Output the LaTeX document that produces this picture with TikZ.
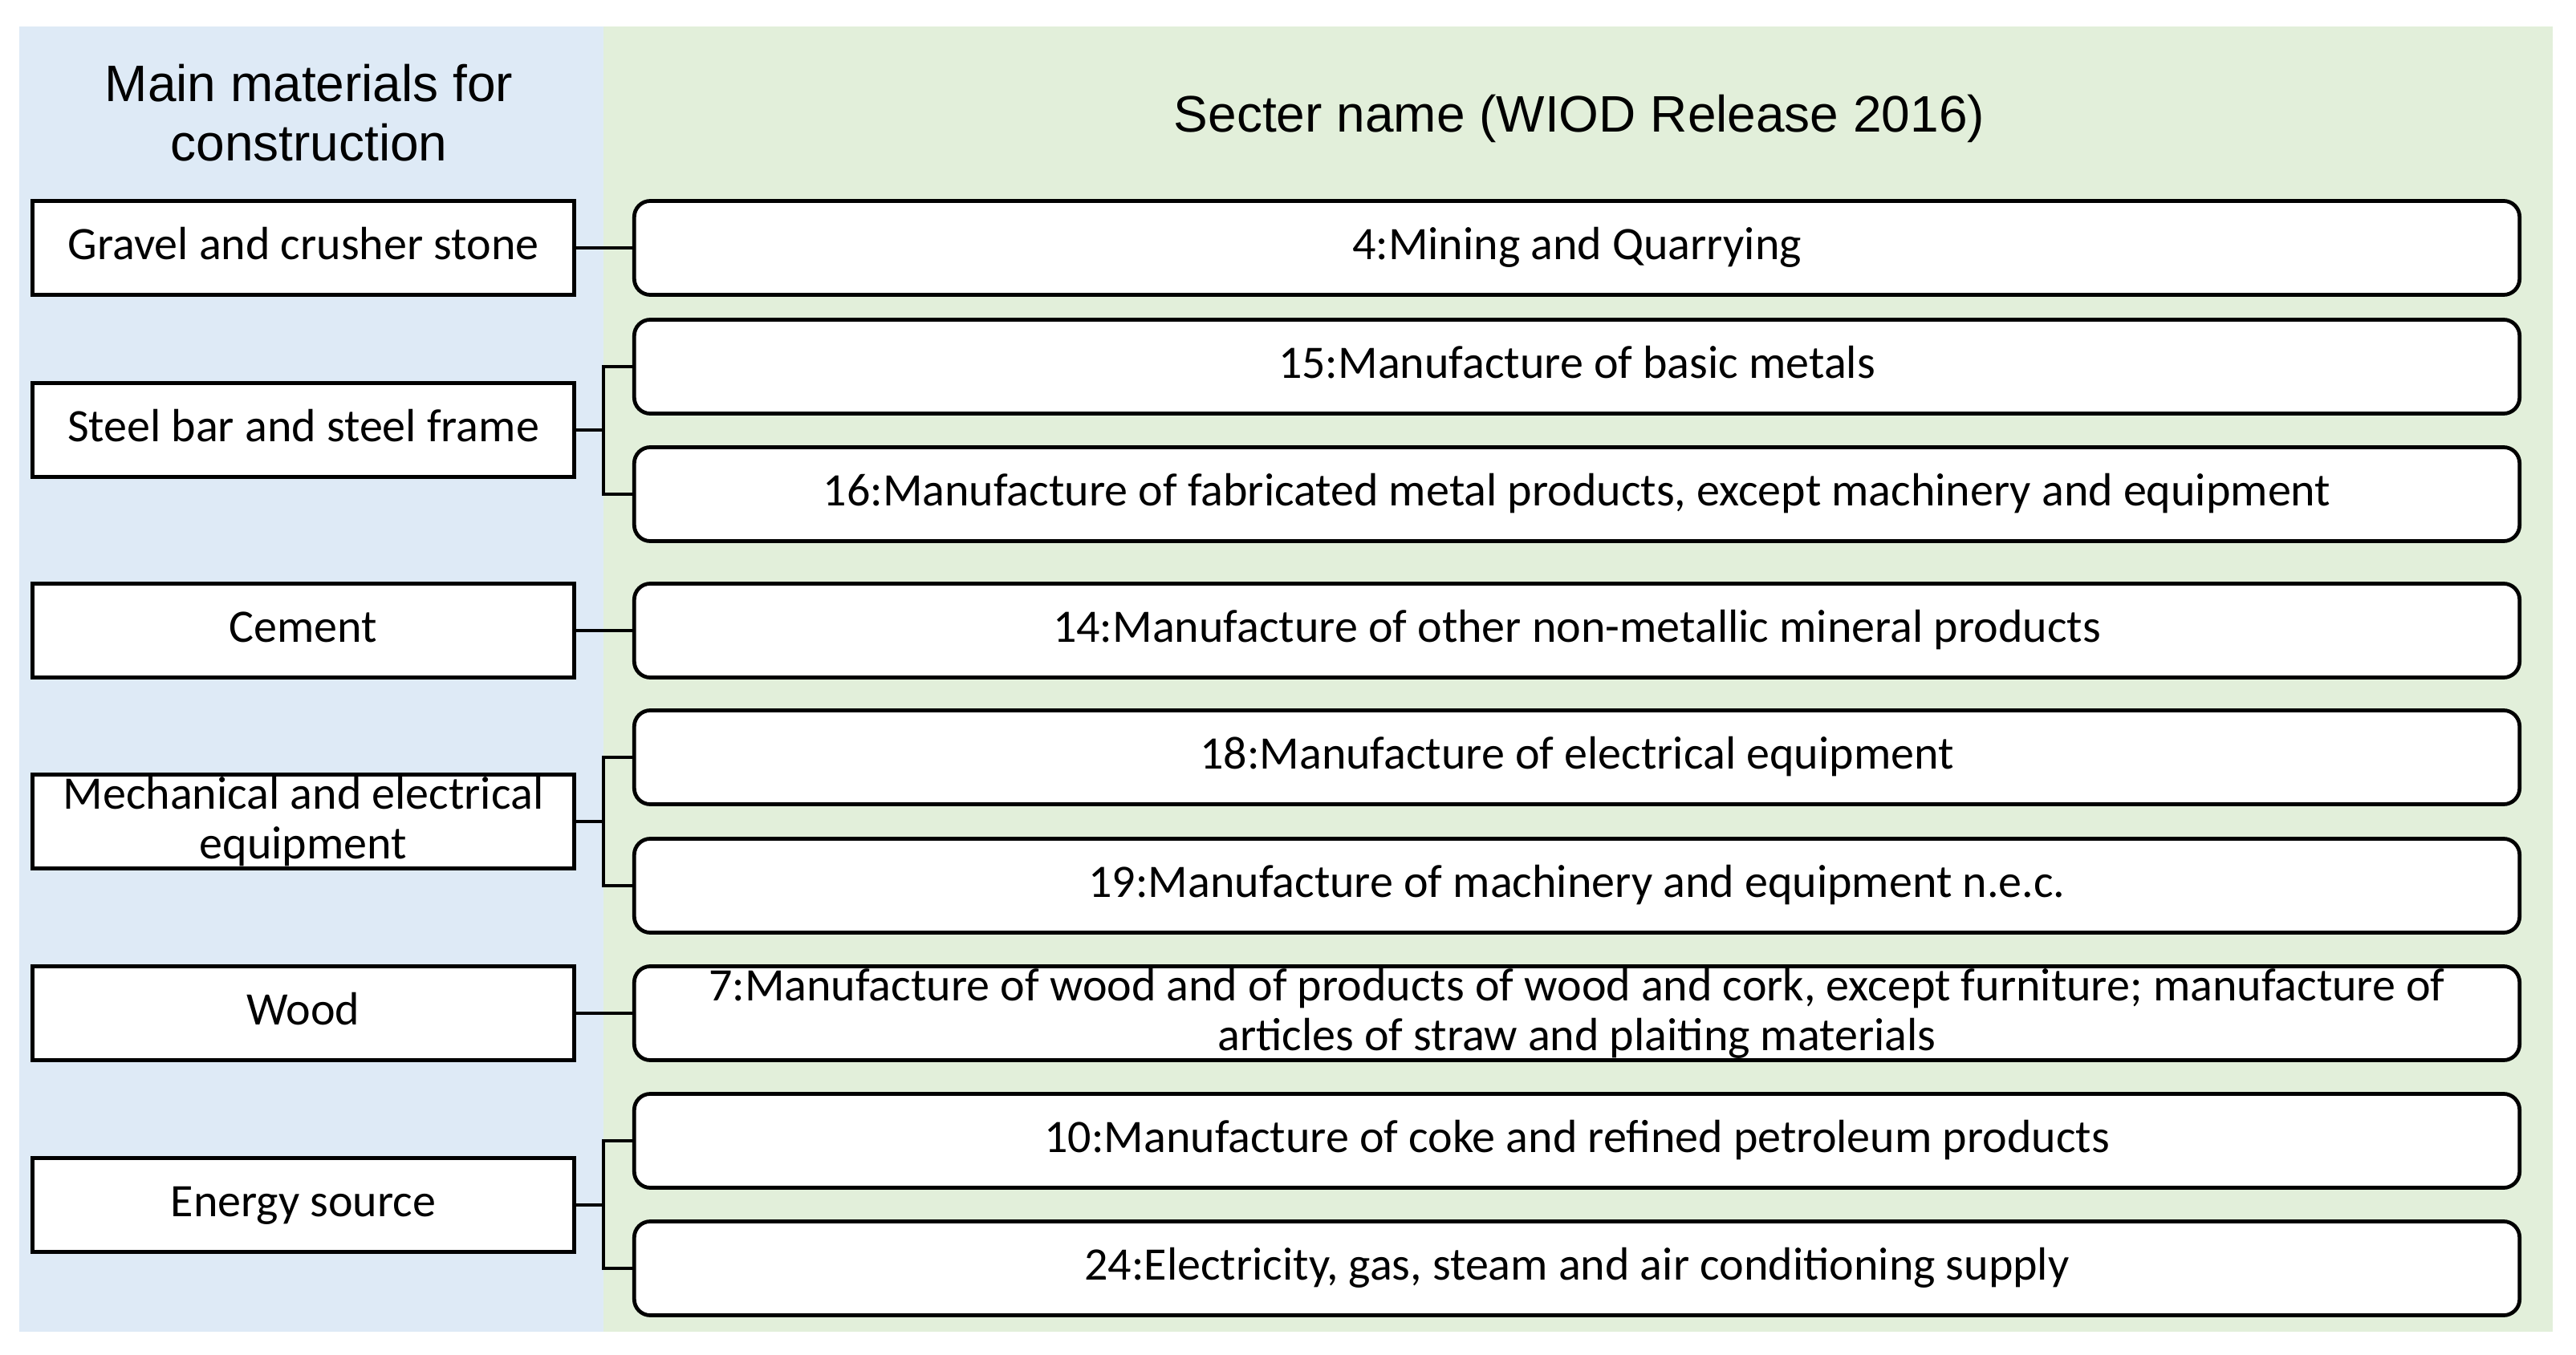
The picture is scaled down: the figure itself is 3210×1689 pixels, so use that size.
\documentclass[tikz,border=0pt]{standalone}
\usepackage{fontspec}
\setmainfont{Carlito}
\newfontfamily\hdfont{Liberation Sans}
\definecolor{bluebg}{HTML}{DEEAF6}
\definecolor{greenbg}{HTML}{E2EFDA}
\begin{document}
\begin{tikzpicture}[x=0.01cm,y=-0.01cm,
  hd/.style={font=\hdfont\fontsize{18.2pt}{21.1pt}\selectfont, align=center, inner sep=0pt},
  boxtext/.style={font=\fontsize{16.5pt}{17.6pt}\selectfont, align=center, inner sep=0pt},
  onel/.style={text height=0.435cm, text depth=0.145cm},
  lbox/.style={boxtext, draw, line width=1.35pt, fill=white, minimum width=6.74cm, minimum height=1.17cm},
  rbox/.style={boxtext, draw, line width=1.35pt, fill=white, rounded corners=0.2cm, minimum width=23.48cm, minimum height=1.17cm},
  link/.style={line width=1.35pt}]
\useasboundingbox (0,0) rectangle (3210,1689);
\fill[bluebg] (24,33) rectangle (752,1660);
\fill[greenbg] (752,33) rectangle (3181,1660);

\node[hd] (h1) at (385,141) {Main materials for\\construction};
\node[hd, anchor=base] (h2) at (1968,165) {Secter name (WIOD Release 2016)};

% left boxes
\node[lbox, onel] (gravel) at (378,309) {Gravel and crusher stone};
\node[lbox, onel] (steel) at (378,536) {Steel bar and steel frame};
\node[lbox, onel] (cement) at (378,786) {Cement};
\node[lbox] (mech) at (378,1024) {Mechanical and electrical\\equipment};
\node[lbox, onel] (wood) at (378,1263) {Wood};
\node[lbox, onel] (energy) at (378,1502) {Energy source};

% right boxes
\node[rbox, onel] (r4) at (1965,309) {4:Mining and Quarrying};
\node[rbox, onel] (r15) at (1965,457) {15:Manufacture of basic metals};
\node[rbox, onel] (r16) at (1965,616) {16:Manufacture of fabricated metal products, except machinery and equipment};
\node[rbox, onel] (r14) at (1965,786) {14:Manufacture of other non-metallic mineral products};
\node[rbox, onel] (r18) at (1965,944) {18:Manufacture of electrical equipment};
\node[rbox, onel] (r19) at (1965,1104) {19:Manufacture of machinery and equipment n.e.c.};
\node[rbox] (r7) at (1965,1263) {7:Manufacture of wood and of products of wood and cork, except furniture; manufacture of\\articles of straw and plaiting materials};
\node[rbox, onel] (r10) at (1965,1422) {10:Manufacture of coke and refined petroleum products};
\node[rbox, onel] (r24) at (1965,1581) {24:Electricity, gas, steam and air conditioning supply};

% junctions
\coordinate (jsteel) at (752,536);
\coordinate (jmech) at (752,1024);
\coordinate (jenergy) at (752,1502);

% connectors
\draw[link] (gravel.east) -- (r4.west);
\draw[link] (cement.east) -- (r14.west);
\draw[link] (wood.east) -- (r7.west);
\draw[link] (steel.east) -- (jsteel);
\draw[link] (r15.west) -| (jsteel) |- (r16.west);
\draw[link] (mech.east) -- (jmech);
\draw[link] (r18.west) -| (jmech) |- (r19.west);
\draw[link] (energy.east) -- (jenergy);
\draw[link] (r10.west) -| (jenergy) |- (r24.west);
\end{tikzpicture}
\end{document}
